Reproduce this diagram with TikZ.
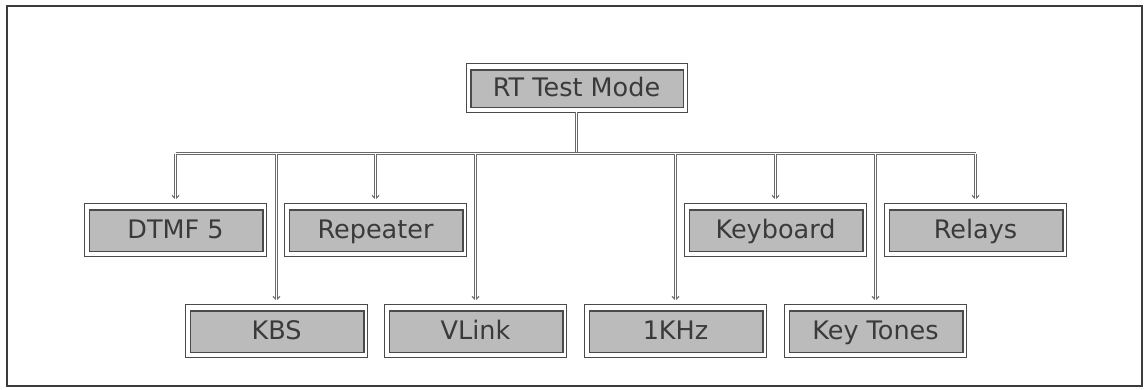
\documentclass[tikz,border=0pt]{standalone}
\usepackage{fontspec}
\setmainfont{DejaVu Sans}
\usetikzlibrary{arrows.meta}
\definecolor{framecol}{HTML}{3C3C3C}
\definecolor{boxfill}{HTML}{BBBBBB}
\definecolor{boxline}{HTML}{4A4A4A}
\definecolor{txtcol}{HTML}{3A3A3A}
\definecolor{linkcol}{HTML}{6A6A6A}
\tikzset{
  menubox/.style={
    minimum width=182pt, minimum height=53pt, inner sep=0pt,
    draw=boxline, line width=0.9pt, fill=white,
    text=txtcol, font=\fontsize{25.5}{28}\selectfont,
    text height=18.5pt, text depth=0pt,
    path picture={
      \draw[boxline, line width=1.4pt, fill=boxfill]
        ([shift={(5pt,-7pt)}]path picture bounding box.north west)
        rectangle ([shift={(-3.5pt,4.5pt)}]path picture bounding box.south east);
    }
  },
  % raised double rule: dark outline with a white core
  link/.style={preaction={draw=linkcol, line width=2.8pt}, draw=white, line width=1.1pt},
  linkarrow/.style={
    preaction={draw=linkcol, line width=2.8pt, -{Straight Barb[length=3.5pt,width=7pt,line width=1pt]}},
    draw=white, line width=1.1pt, shorten >=3pt}
}
\begin{document}
\begin{tikzpicture}[x=1pt,y=-1pt]
  \useasboundingbox (0,0) rectangle (1147,389);
  \fill[white] (0,0) rectangle (1147,389);
  \draw[framecol, line width=2pt] (7,6) rectangle (1142,386);

  % root and second-level items
  \node[menubox, minimum width=221pt, minimum height=49pt] (root) at (576.5,87.5) {RT Test Mode};

  \node[menubox] (dtmf)  at (175.5,229.5) {DTMF 5};
  \node[menubox] (rep)   at (375.5,229.5) {Repeater};
  \node[menubox] (kbd)   at (775.5,229.5) {Keyboard};
  \node[menubox] (rel)   at (975.5,229.5) {Relays};

  \node[menubox] (kbs)   at (276.5,330.5) {KBS};
  \node[menubox] (vlink) at (475.5,330.5) {VLink};
  \node[menubox] (khz)   at (675.5,330.5) {1KHz};
  \node[menubox] (tones) at (875.5,330.5) {Key Tones};

  % distribution bus
  \coordinate (bus) at (576.5,153.5);
  \coordinate (busL) at (175.5,153.5);
  \coordinate (busR) at (975.5,153.5);
  \draw[link] (root.south) -- (bus);
  \draw[link] (busL) -- (busR);

  \draw[linkarrow] (dtmf.north |- bus) -- (dtmf.north);
  \draw[linkarrow] (rep.north |- bus) -- (rep.north);
  \draw[linkarrow] (kbd.north |- bus) -- (kbd.north);
  \draw[linkarrow] (rel.north |- bus) -- (rel.north);
  \draw[linkarrow] (kbs.north |- bus) -- (kbs.north);
  \draw[linkarrow] (vlink.north |- bus) -- (vlink.north);
  \draw[linkarrow] (khz.north |- bus) -- (khz.north);
  \draw[linkarrow] (tones.north |- bus) -- (tones.north);
\end{tikzpicture}
\end{document}
